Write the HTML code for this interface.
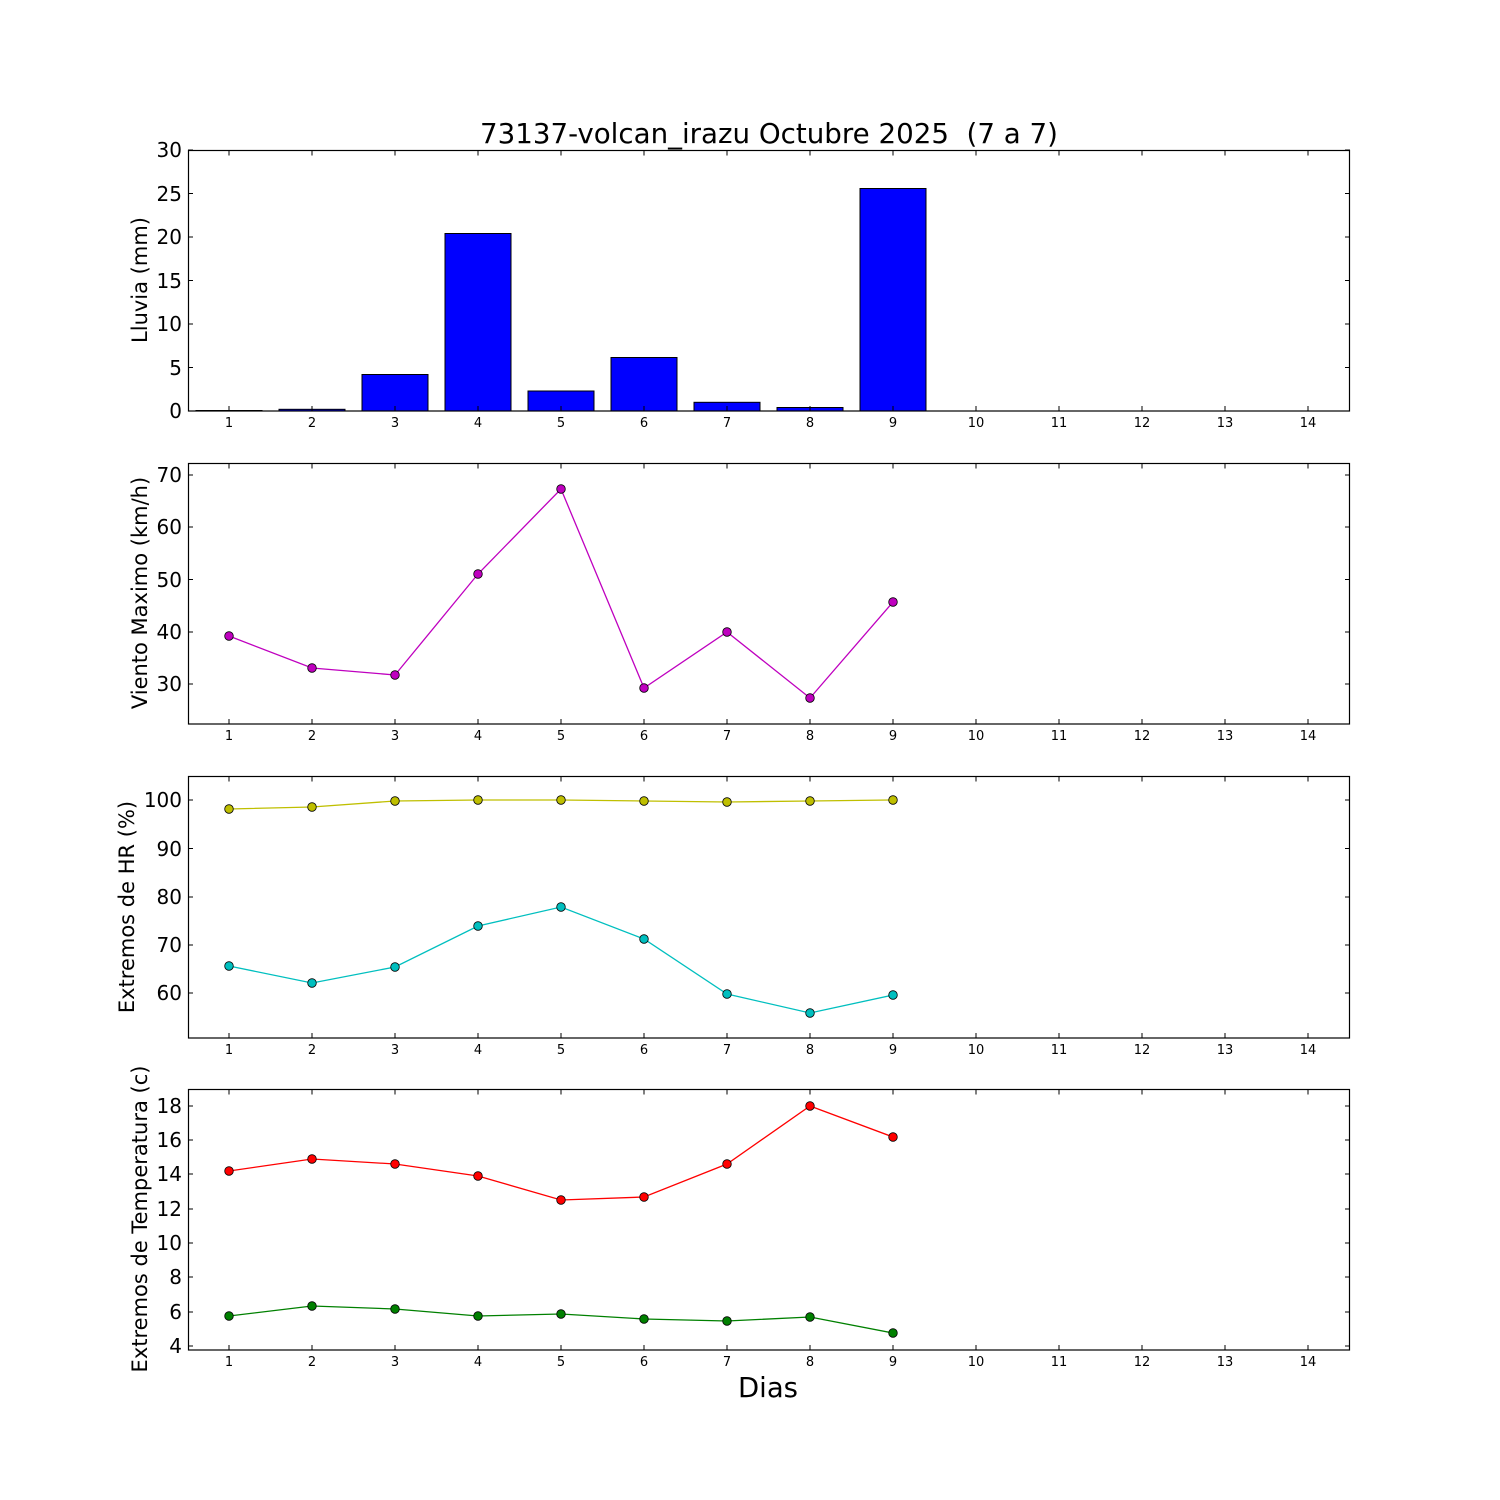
<!DOCTYPE html>
<html><head><meta charset="utf-8"><style>body{margin:0;background:#fff}svg{display:block}text{font-family:"DejaVu Sans","Liberation Sans",sans-serif;fill:#000;white-space:pre}</style></head><body>
<svg width="1500" height="1500" viewBox="0 0 1500 1500" xmlns="http://www.w3.org/2000/svg" xml:space="preserve">
<defs>
<g id="xt" stroke="#000" stroke-width="1">
<path d="M229 0v-5M312 0v-5M395 0v-5M478 0v-5M561 0v-5M644 0v-5M727 0v-5M810 0v-5M893 0v-5M976 0v-5M1059 0v-5M1142 0v-5M1225 0v-5M1308 0v-5"/>
</g>
<g id="xtt" stroke="#000" stroke-width="1">
<path d="M229 0v5M312 0v5M395 0v5M478 0v5M561 0v5M644 0v5M727 0v5M810 0v5M893 0v5M976 0v5M1059 0v5M1142 0v5M1225 0v5M1308 0v5"/>
</g>
<g id="xl" font-size="13" text-anchor="middle">
<text x="229" y="0">1</text><text x="312" y="0">2</text><text x="395" y="0">3</text><text x="478" y="0">4</text><text x="561" y="0">5</text><text x="644" y="0">6</text><text x="727" y="0">7</text><text x="810" y="0">8</text><text x="893" y="0">9</text><text x="976" y="0">10</text><text x="1059" y="0">11</text><text x="1142" y="0">12</text><text x="1225" y="0">13</text><text x="1308" y="0">14</text>
</g>
</defs>
<text x="769" y="143" font-size="27.7" text-anchor="middle">73137-volcan_irazu Octubre 2025  (7 a 7)</text>

<!-- Panel 1 -->
<g fill="#0000ff" stroke="#000" stroke-width="1">
<rect x="196" y="410.5" width="66" height="0.5"/>
<rect x="279" y="409.3" width="66" height="1.7"/>
<rect x="362" y="374.5" width="66" height="36.5"/>
<rect x="445" y="233.5" width="66" height="177.5"/>
<rect x="528" y="391" width="66" height="20"/>
<rect x="611" y="357.5" width="66" height="53.5"/>
<rect x="694" y="402.3" width="66" height="8.7"/>
<rect x="777" y="407.5" width="66" height="3.5"/>
<rect x="860" y="188.5" width="66" height="222.5"/>
</g>
<rect x="188.5" y="150.5" width="1161" height="260.5" fill="none" stroke="#000" stroke-width="1.2"/>
<use href="#xt" y="411"/><use href="#xtt" y="150.5"/><use href="#xl" y="427"/>
<g stroke="#000"><path d="M188 411h5M188 367.5h5M188 324h5M188 280.5h5M188 237h5M188 193.5h5M188 150h5M1350 411h-5M1350 367.5h-5M1350 324h-5M1350 280.5h-5M1350 237h-5M1350 193.5h-5M1350 150h-5"/></g>
<g font-size="20" text-anchor="end"><text x="182" y="418">0</text><text x="182" y="375">5</text><text x="182" y="331">10</text><text x="182" y="288">15</text><text x="182" y="244">20</text><text x="182" y="201">25</text><text x="182" y="157">30</text></g>
<text transform="translate(147,280) rotate(-90)" font-size="21" text-anchor="middle">Lluvia (mm)</text>

<!-- Panel 2 -->
<rect x="188.5" y="463.5" width="1161" height="260.5" fill="none" stroke="#000" stroke-width="1.2"/>
<use href="#xt" y="724"/><use href="#xtt" y="463.5"/><use href="#xl" y="740"/>
<g stroke="#000"><path d="M188 475h5M188 527h5M188 579.5h5M188 632h5M188 684h5M1350 475h-5M1350 527h-5M1350 579.5h-5M1350 632h-5M1350 684h-5"/></g>
<g font-size="20" text-anchor="end"><text x="182" y="482">70</text><text x="182" y="534">60</text><text x="182" y="587">50</text><text x="182" y="639">40</text><text x="182" y="691">30</text></g>
<text transform="translate(147,593) rotate(-90)" font-size="21" text-anchor="middle">Viento Maximo (km/h)</text>
<polyline points="229,636 312,668 395,675 478,574 561,489 644,688 727,632 810,698 893,602" fill="none" stroke="#bf00bf" stroke-width="1.3"/>
<g fill="#bf00bf" stroke="#000" stroke-width="0.8"><circle cx="229" cy="636" r="4.3"/><circle cx="312" cy="668" r="4.3"/><circle cx="395" cy="675" r="4.3"/><circle cx="478" cy="574" r="4.3"/><circle cx="561" cy="489" r="4.3"/><circle cx="644" cy="688" r="4.3"/><circle cx="727" cy="632" r="4.3"/><circle cx="810" cy="698" r="4.3"/><circle cx="893" cy="602" r="4.3"/></g>

<!-- Panel 3 -->
<rect x="188.5" y="776.5" width="1161" height="261.5" fill="none" stroke="#000" stroke-width="1.2"/>
<use href="#xt" y="1038"/><use href="#xtt" y="776.5"/><use href="#xl" y="1054"/>
<g stroke="#000"><path d="M188 800h5M188 848.5h5M188 897h5M188 945h5M188 993h5M1350 800h-5M1350 848.5h-5M1350 897h-5M1350 945h-5M1350 993h-5"/></g>
<g font-size="20" text-anchor="end"><text x="182" y="807">100</text><text x="182" y="856">90</text><text x="182" y="904">80</text><text x="182" y="952">70</text><text x="182" y="1000">60</text></g>
<text transform="translate(134,907) rotate(-90)" font-size="21" text-anchor="middle">Extremos de HR (%)</text>
<polyline points="229,809 312,807 395,801 478,800 561,800 644,801 727,802 810,801 893,800" fill="none" stroke="#bfbf00" stroke-width="1.3"/>
<g fill="#bfbf00" stroke="#000" stroke-width="0.8"><circle cx="229" cy="809" r="4.3"/><circle cx="312" cy="807" r="4.3"/><circle cx="395" cy="801" r="4.3"/><circle cx="478" cy="800" r="4.3"/><circle cx="561" cy="800" r="4.3"/><circle cx="644" cy="801" r="4.3"/><circle cx="727" cy="802" r="4.3"/><circle cx="810" cy="801" r="4.3"/><circle cx="893" cy="800" r="4.3"/></g>
<polyline points="229,966 312,983 395,967 478,926 561,907 644,939 727,994 810,1013 893,995" fill="none" stroke="#00bfbf" stroke-width="1.3"/>
<g fill="#00bfbf" stroke="#000" stroke-width="0.8"><circle cx="229" cy="966" r="4.3"/><circle cx="312" cy="983" r="4.3"/><circle cx="395" cy="967" r="4.3"/><circle cx="478" cy="926" r="4.3"/><circle cx="561" cy="907" r="4.3"/><circle cx="644" cy="939" r="4.3"/><circle cx="727" cy="994" r="4.3"/><circle cx="810" cy="1013" r="4.3"/><circle cx="893" cy="995" r="4.3"/></g>

<!-- Panel 4 -->
<rect x="188.5" y="1089.5" width="1161" height="260.5" fill="none" stroke="#000" stroke-width="1.2"/>
<use href="#xt" y="1350"/><use href="#xtt" y="1089.5"/><use href="#xl" y="1366"/>
<g stroke="#000"><path d="M188 1106h5M188 1140h5M188 1174h5M188 1209h5M188 1243h5M188 1277h5M188 1312h5M188 1346h5M1350 1106h-5M1350 1140h-5M1350 1174h-5M1350 1209h-5M1350 1243h-5M1350 1277h-5M1350 1312h-5M1350 1346h-5"/></g>
<g font-size="20" text-anchor="end"><text x="182" y="1113">18</text><text x="182" y="1147">16</text><text x="182" y="1181">14</text><text x="182" y="1216">12</text><text x="182" y="1250">10</text><text x="182" y="1284">8</text><text x="182" y="1319">6</text><text x="182" y="1353">4</text></g>
<text transform="translate(147,1219) rotate(-90)" font-size="21" text-anchor="middle">Extremos de Temperatura (c)</text>
<polyline points="229,1171 312,1159 395,1164 478,1176 561,1200 644,1197 727,1164 810,1106 893,1137" fill="none" stroke="#ff0000" stroke-width="1.3"/>
<g fill="#ff0000" stroke="#000" stroke-width="0.8"><circle cx="229" cy="1171" r="4.3"/><circle cx="312" cy="1159" r="4.3"/><circle cx="395" cy="1164" r="4.3"/><circle cx="478" cy="1176" r="4.3"/><circle cx="561" cy="1200" r="4.3"/><circle cx="644" cy="1197" r="4.3"/><circle cx="727" cy="1164" r="4.3"/><circle cx="810" cy="1106" r="4.3"/><circle cx="893" cy="1137" r="4.3"/></g>
<polyline points="229,1316 312,1306 395,1309 478,1316 561,1314 644,1319 727,1321 810,1317 893,1333" fill="none" stroke="#008000" stroke-width="1.3"/>
<g fill="#008000" stroke="#000" stroke-width="0.8"><circle cx="229" cy="1316" r="4.3"/><circle cx="312" cy="1306" r="4.3"/><circle cx="395" cy="1309" r="4.3"/><circle cx="478" cy="1316" r="4.3"/><circle cx="561" cy="1314" r="4.3"/><circle cx="644" cy="1319" r="4.3"/><circle cx="727" cy="1321" r="4.3"/><circle cx="810" cy="1317" r="4.3"/><circle cx="893" cy="1333" r="4.3"/></g>
<text x="768" y="1397" font-size="27.5" text-anchor="middle">Dias</text>
</svg>
</body></html>
